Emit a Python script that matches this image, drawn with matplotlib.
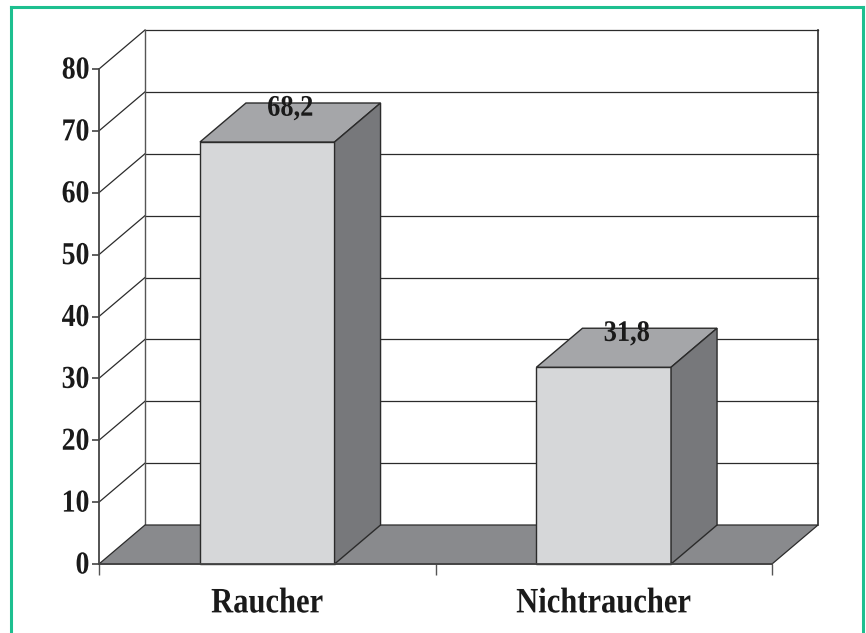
import matplotlib.pyplot as plt
from matplotlib.patches import Polygon
from matplotlib.lines import Line2D
from matplotlib.patheffects import AbstractPathEffect
from matplotlib.transforms import Affine2D

# Daten
kategorien = ['Raucher', 'Nichtraucher']
werte = [68.2, 31.8]
wert_texte = ['68,2', '31,8']
y_ticks = [0, 10, 20, 30, 40, 50, 60, 70, 80]


class Hoch(AbstractPathEffect):
    """Streckt die Schrift senkrecht (ab der Grundlinie)."""
    def __init__(self, sy):
        super().__init__()
        self.sy = sy

    def draw_path(self, renderer, gc, tpath, affine, rgbFace=None):
        renderer.draw_path(gc, tpath, Affine2D().scale(1, self.sy) + affine, rgbFace)


plt.rcParams['font.family'] = ['Liberation Serif', 'DejaVu Serif']
plt.rcParams['font.weight'] = 'bold'

fig = plt.figure(figsize=(8.66, 6.33), dpi=100)
ax = fig.add_axes([99/866, 1 - 564/633, 673/866, 495/633])
ax.set_xlim(0, 2)
ax.set_ylim(0, 80)

# Tiefe der 3D-Darstellung (in Datenkoordinaten)
dx = 46 / 673 * 2
dy = 39 / 495 * 80
breite = 0.4

linie = '#2b2b2b'
boden = '#898a8d'
front = '#d6d7d9'
oben = '#a5a6a9'
seite = '#77787b'

# Rueckwand und Seitenwand mit Gitterlinien
for v in y_ticks[1:]:
    ax.add_line(Line2D([dx, 2 + dx], [v + dy, v + dy], color=linie, lw=0.9, zorder=1, clip_on=False))
    ax.add_line(Line2D([0, dx], [v, v + dy], color=linie, lw=0.9, zorder=1, clip_on=False))
ax.add_line(Line2D([dx, dx], [dy, 80 + dy], color='#555555', lw=1.0, zorder=1, clip_on=False))
ax.add_line(Line2D([2 + dx, 2 + dx], [dy, 80 + dy], color=linie, lw=1.2, zorder=1, clip_on=False))

# Boden
ax.add_patch(Polygon([[0, 0], [2, 0], [2 + dx, dy], [dx, dy]], closed=True,
                     facecolor=boden, edgecolor=linie, lw=0.9, zorder=2, clip_on=False))

# Saeulen
for i, (v, t) in enumerate(zip(werte, wert_texte)):
    x0 = i + 0.5 - breite / 2
    x1 = i + 0.5 + breite / 2
    ax.add_patch(Polygon([[x0, 0], [x1, 0], [x1, v], [x0, v]], closed=True,
                         facecolor=front, edgecolor=linie, lw=1.0, zorder=3, clip_on=False))
    ax.add_patch(Polygon([[x0, v], [x1, v], [x1 + dx, v + dy], [x0 + dx, v + dy]], closed=True,
                         facecolor=oben, edgecolor=linie, lw=1.0, zorder=3, clip_on=False))
    ax.add_patch(Polygon([[x1, 0], [x1 + dx, dy], [x1 + dx, v + dy], [x1, v]], closed=True,
                         facecolor=seite, edgecolor=linie, lw=1.0, zorder=3, clip_on=False))
    ax.text(i + 0.5 + dx / 2, v + dy - 1.0, t, ha='center', va='center', fontsize=19,
            fontweight='bold', color='#1a1a1a', zorder=5, path_effects=[Hoch(1.13)])

# Achsen
for s in ['top', 'right']:
    ax.spines[s].set_visible(False)
for s in ['left', 'bottom']:
    ax.spines[s].set_color('#444444')
    ax.spines[s].set_linewidth(1.3)
    ax.spines[s].set_zorder(4)
ax.set_facecolor('none')
ax.set_yticks(y_ticks)
ax.set_yticklabels([str(v) for v in y_ticks])
ax.tick_params(axis='y', length=5, width=1.2, color='#444444', pad=2, labelsize=20, labelcolor='#1a1a1a')
ax.set_xticks([0, 1, 2])
ax.set_xticklabels(['', '', ''])
ax.tick_params(axis='x', which='major', length=8, width=1.0, color='#555555')
ax.set_xticks([0.5, 1.5], minor=True)
ax.set_xticklabels(kategorien, minor=True)
ax.tick_params(axis='x', which='minor', length=0, pad=19, labelsize=22, labelcolor='#1a1a1a')
for lab in ax.get_yticklabels():
    lab.set_path_effects([Hoch(1.15)])
for lab in ax.get_xticklabels(minor=True):
    lab.set_path_effects([Hoch(1.17)])

# gruener Rahmen, unten offen
rahmen = '#1dbf8f'
fig.add_artist(Line2D([11/866, 11/866], [0, 1 - 7/633], color=rahmen, lw=2.2, transform=fig.transFigure))
fig.add_artist(Line2D([11/866, 863/866], [1 - 7/633, 1 - 7/633], color=rahmen, lw=2.2, transform=fig.transFigure))
fig.add_artist(Line2D([863/866, 863/866], [0, 1 - 7/633], color=rahmen, lw=2.2, transform=fig.transFigure))

fig.savefig('out.png', dpi=100)
